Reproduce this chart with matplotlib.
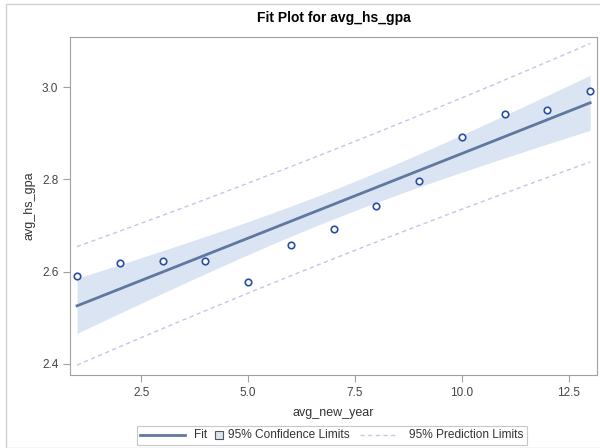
import numpy as np
import matplotlib.pyplot as plt
from matplotlib.lines import Line2D
from matplotlib.patches import Rectangle
from matplotlib.offsetbox import DrawingArea, TextArea, HPacker, AnchoredOffsetbox

plt.rcParams["font.family"] = ["Liberation Sans", "DejaVu Sans"]

# data
avg_new_year = [1, 2, 3, 4, 5, 6, 7, 8, 9, 10, 11, 12, 13]
avg_hs_gpa = [2.590, 2.618, 2.622, 2.624, 2.577, 2.658, 2.693,
              2.742, 2.797, 2.892, 2.942, 2.950, 2.991]

x = np.array(avg_new_year, dtype=float)
y = np.array(avg_hs_gpa)
n = len(x)
b1, b0 = np.polyfit(x, y, 1)
resid = y - (b0 + b1 * x)
s = np.sqrt(np.sum(resid ** 2) / (n - 2))
t = 2.201  # t(0.975, 11)
sxx = np.sum((x - x.mean()) ** 2)

xs = np.linspace(x.min(), x.max(), 200)
fit = b0 + b1 * xs
se_mean = s * np.sqrt(1 / n + (xs - x.mean()) ** 2 / sxx)
se_pred = s * np.sqrt(1 + 1 / n + (xs - x.mean()) ** 2 / sxx)

fig = plt.figure(figsize=(6, 4.48), dpi=100)
ax = fig.add_axes([0.117, 0.163, 0.878, 0.754])

fill_c = "#dae4f2"
fit_c = "#60789e"
pt_c = "#2a4ea6"
pi_c = "#c2c5ea"
dash = (0, (3, 2.5))
txt_c = "#333333"

ax.fill_between(xs, fit - t * se_mean, fit + t * se_mean, color=fill_c, lw=0)
ax.plot(xs, fit, color=fit_c, lw=2)
ax.plot(xs, fit - t * se_pred, color=pi_c, lw=1, ls=dash)
ax.plot(xs, fit + t * se_pred, color=pi_c, lw=1, ls=dash)
ax.scatter(x, y, s=22, facecolors="white", edgecolors=pt_c, linewidths=1.2, zorder=3)

ax.set_xlim(0.84, 13.16)
ax.set_ylim(2.376, 3.108)
ax.set_xticks([2.5, 5.0, 7.5, 10.0, 12.5])
ax.set_xticklabels(["2.5", "5.0", "7.5", "10.0", "12.5"])
ax.set_yticks([2.4, 2.6, 2.8, 3.0])
ax.set_yticklabels(["2.4", "2.6", "2.8", "3.0"])
for sp in ax.spines.values():
    sp.set_color("#a0a0a0")
ax.tick_params(colors="#a0a0a0", labelcolor="#444444", labelsize=8.5, length=5)
ax.set_xlabel("avg_new_year", fontsize=9, color=txt_c, labelpad=6)
ax.set_ylabel("avg_hs_gpa", fontsize=9, color=txt_c, labelpad=5)
ax.set_title("Fit Plot for avg_hs_gpa", fontsize=10, fontweight="bold", pad=11)

# legend built by hand so every handle gets its own width (sizes in points)
def px(v):
    return v * 0.72

def spacer(w):
    return DrawingArea(px(w), px(8))

h = px(8)
da_fit = DrawingArea(px(45), h)
da_fit.add_artist(Line2D([0, px(45)], [h / 2, h / 2], color=fit_c, lw=2))
da_ci = DrawingArea(px(9), h)
da_ci.add_artist(Rectangle((px(0.5), px(0.5)), px(8), px(8), facecolor=fill_c,
                           edgecolor="#555555", lw=0.8))
da_pi = DrawingArea(px(38), h)
da_pi.add_artist(Line2D([0, px(38)], [h / 2, h / 2], color=pi_c, lw=1, ls=dash))

def label(s):
    return TextArea(s, textprops=dict(fontsize=8.6, color=txt_c))

row = HPacker(children=[da_fit, spacer(9), label("Fit"), spacer(7), da_ci, spacer(5),
                        label("95% Confidence Limits"), spacer(10), da_pi, spacer(11),
                        label("95% Prediction Limits")],
              sep=0, pad=0, align="center")
leg = AnchoredOffsetbox(loc="center", child=row, pad=0.25, borderpad=0, frameon=True,
                        bbox_to_anchor=(0.553, 0.028), bbox_transform=fig.transFigure)
leg.patch.set_edgecolor("#c8c8c8")
leg.patch.set_linewidth(0.8)
leg.patch.set_boxstyle("square", pad=0)
ax.add_artist(leg)

fig.patches.append(Rectangle((0.010, 0.0), 1.0, 0.991, transform=fig.transFigure,
                             fill=False, edgecolor="#d0d0d0", lw=1))

plt.savefig("out.png", dpi=100)
